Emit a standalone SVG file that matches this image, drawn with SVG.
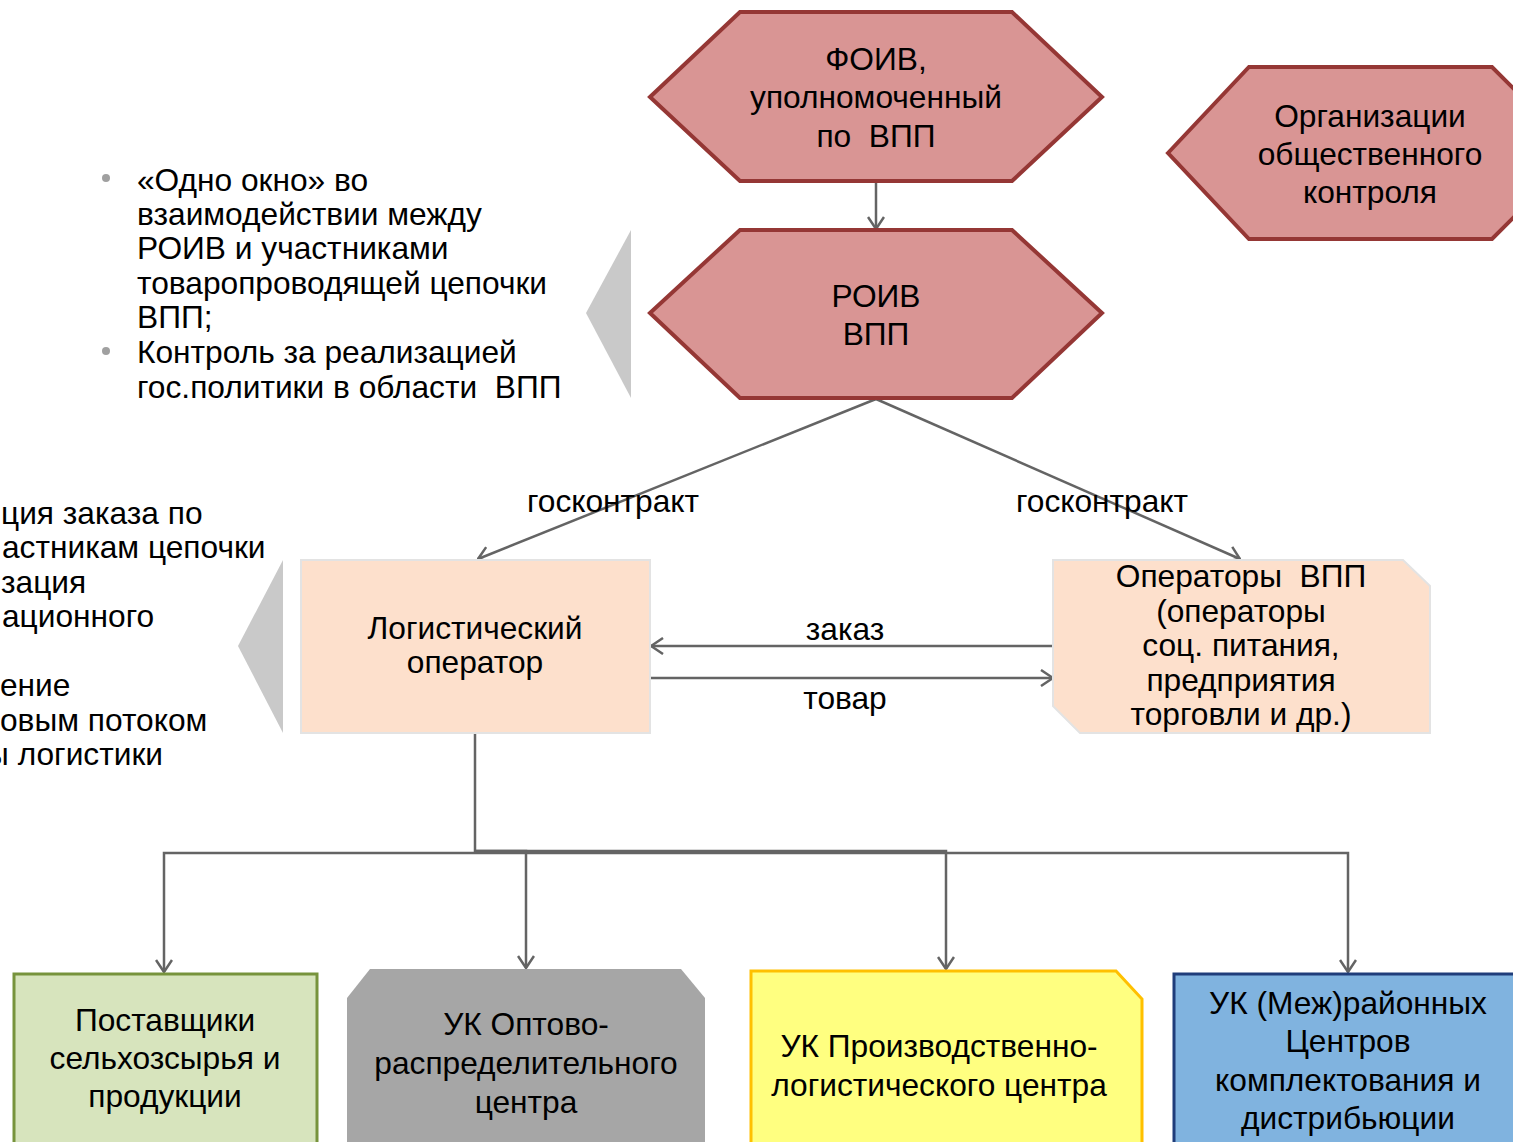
<svg xmlns="http://www.w3.org/2000/svg" width="1513" height="1142" viewBox="0 0 1513 1142">
<defs>
<style>
text{font-family:"Liberation Sans",Arial,sans-serif;font-size:31.7px;fill:#000;}
.c{text-anchor:middle;}
.e{text-anchor:end;}
.hex{fill:#D99594;stroke:#953735;stroke-width:4;stroke-linejoin:miter;}
.peach{fill:#FDE0CC;stroke:#E3E3E3;stroke-width:2;}
.conn{fill:none;stroke:#646464;stroke-width:2.5;}
.arr{marker-end:url(#ah);}
.tri{fill:#C9C9C9;}
.bul{fill:#A0A0A0;}
</style>
<marker id="ah" viewBox="0 0 14 18" refX="13" refY="9" markerWidth="14" markerHeight="18" markerUnits="userSpaceOnUse" orient="auto">
<path d="M1,1 L13,9 L1,17" fill="none" stroke="#646464" stroke-width="2.5"/>
</marker>
</defs>
<rect width="1513" height="1142" fill="#fff"/>

<g id="side-text-1">
<polygon class="tri" points="631,230 631,398 586,313"/>
<circle class="bul" cx="106" cy="178" r="4"/>
<circle class="bul" cx="106" cy="351" r="4"/>
<text x="137" y="191">«Одно окно» во</text>
<text x="137" y="225">взаимодействии между</text>
<text x="137" y="259">РОИВ и участниками</text>
<text x="137" y="294">товаропроводящей цепочки</text>
<text x="137" y="328">ВПП;</text>
<text x="137" y="363">Контроль за реализацией</text>
<text x="137" y="398" xml:space="preserve">гос.политики в области  ВПП</text>
</g>

<g id="side-text-2">
<polygon class="tri" points="283,560 283,733 238,646"/>
<text x="1" y="524">ция заказа по</text>
<text x="2" y="558">астникам цепочки</text>
<text x="1" y="593">зация</text>
<text x="2" y="627">ационного</text>
<text x="0" y="696">ение</text>
<text x="0" y="731">овым потоком</text>
<text class="e" x="163" y="765">ы логистики</text>
</g>

<g id="connectors">
<path class="conn arr" d="M876,181 V229"/>
<path class="conn arr" d="M876,399 L478,559"/>
<path class="conn arr" d="M876,399 L1240,559"/>
<path class="conn arr" d="M1053,646 H651"/>
<path class="conn arr" d="M651,678 H1053"/>
<path class="conn arr" d="M475,733 V851 H526 V968"/>
<path class="conn arr" d="M475,851 H946 V969"/>
<path class="conn arr" d="M475,853 H164 V972"/>
<path class="conn arr" d="M475,853 H1348 V972"/>
<text class="c" x="613" y="512">госконтракт</text>
<text class="c" x="1102" y="512">госконтракт</text>
<text class="c" x="845" y="640">заказ</text>
<text class="c" x="845" y="709">товар</text>
</g>

<g id="foiv">
<polygon class="hex" points="650,97 740,12 1012,12 1102,97 1012,181 740,181"/>
<text class="c" x="876" y="70">ФОИВ,</text>
<text class="c" x="876" y="108">уполномоченный</text>
<text class="c" x="876" y="147" xml:space="preserve">по  ВПП</text>
</g>

<g id="roiv">
<polygon class="hex" points="650,313 740,230 1012,230 1102,313 1012,398 740,398"/>
<text class="c" x="876" y="307">РОИВ</text>
<text class="c" x="876" y="345">ВПП</text>
</g>

<g id="org">
<polygon class="hex" points="1168,153 1249,67 1492,67 1578,153 1492,239 1249,239"/>
<text class="c" x="1370" y="127">Организации</text>
<text class="c" x="1370" y="165">общественного</text>
<text class="c" x="1370" y="203">контроля</text>
</g>

<g id="logist">
<rect class="peach" x="301" y="560" width="349" height="173"/>
<text class="c" x="475" y="639">Логистический</text>
<text class="c" x="475" y="673">оператор</text>
</g>

<g id="operators">
<polygon class="peach" points="1053,560 1403,560 1430,586 1430,733 1080,733 1053,706"/>
<text class="c" x="1241" y="587" xml:space="preserve">Операторы  ВПП</text>
<text class="c" x="1241" y="622">(операторы</text>
<text class="c" x="1241" y="656">соц. питания,</text>
<text class="c" x="1241" y="691">предприятия</text>
<text class="c" x="1241" y="725">торговли и др.)</text>
</g>

<g id="suppliers">
<rect x="14" y="974" width="303" height="172" fill="#D7E4BD" stroke="#77933C" stroke-width="3"/>
<text class="c" x="165" y="1031">Поставщики</text>
<text class="c" x="165" y="1069">сельхозсырья и</text>
<text class="c" x="165" y="1107">продукции</text>
</g>

<g id="orc">
<polygon points="347,998 370,969 681,969 705,998 705,1145 347,1145" fill="#A6A6A6"/>
<text class="c" x="526" y="1035">УК Оптово-</text>
<text class="c" x="526" y="1074">распределительного</text>
<text class="c" x="526" y="1113">центра</text>
</g>

<g id="plc">
<polygon points="751,971 1116,971 1142,999 1142,1145 751,1145" fill="#FFFF80" stroke="#FFC000" stroke-width="3"/>
<text class="c" x="939" y="1057">УК Производственно-</text>
<text class="c" x="939" y="1096">логистического центра</text>
</g>

<g id="dist">
<rect x="1174" y="974" width="345" height="172" fill="#80B3DF" stroke="#1F3D7A" stroke-width="3"/>
<text class="c" x="1348" y="1014">УК (Меж)районных</text>
<text class="c" x="1348" y="1052">Центров</text>
<text class="c" x="1348" y="1091">комплектования и</text>
<text class="c" x="1348" y="1129">дистрибьюции</text>
</g>
</svg>
